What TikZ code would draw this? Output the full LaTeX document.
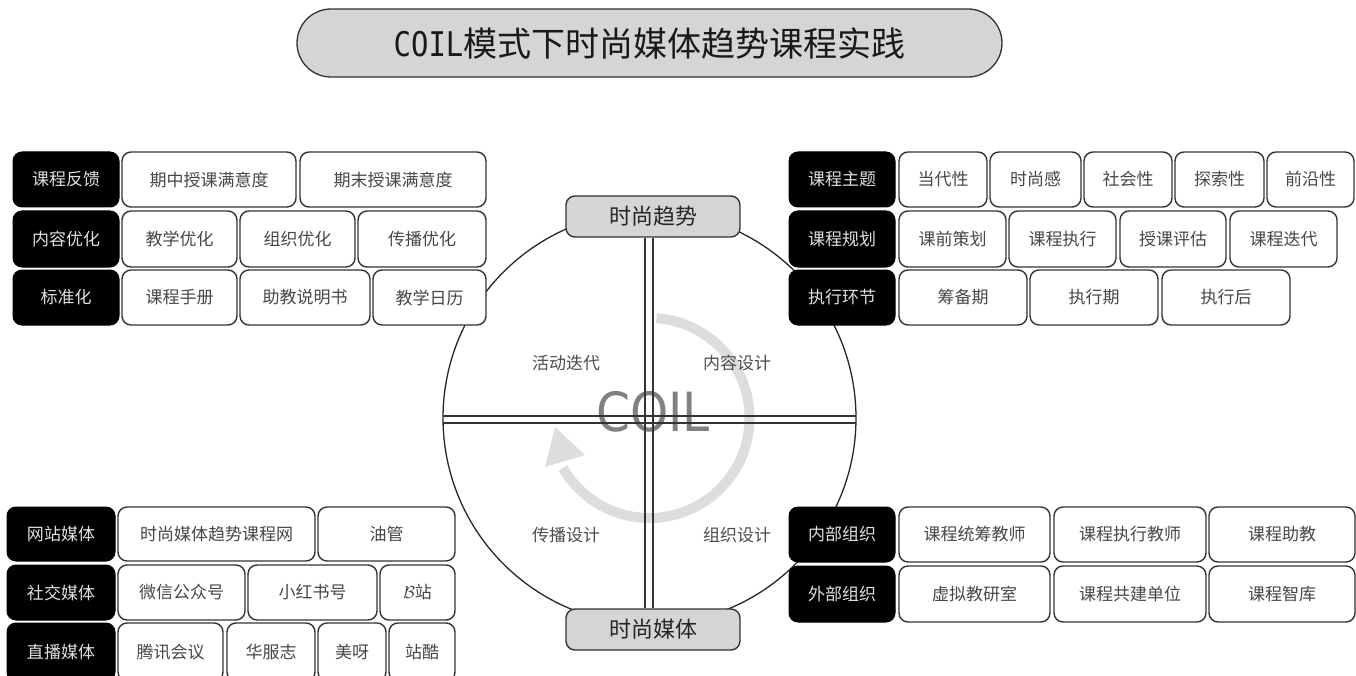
\documentclass[tikz,border=0pt]{standalone}
\usepackage{fontspec}
\usepackage{graphicx}
\setmainfont{Noto Sans CJK SC}
\newfontfamily\cjk{Noto Sans CJK SC}
\newfontfamily\monof{DejaVu Sans Mono}
\newfontfamily\condf{DejaVu Sans Condensed}
\usetikzlibrary{calc}
\newcommand\fsz[1]{\fontsize{#1}{#1}\selectfont}
% \bx{name}{style}{x1}{x2}{y1}{y2}{text}
\newcommand\bx[7]{\node[#2, minimum width={(#4-#3)*1pt}, minimum height={(#6-#5)*1pt}] (#1) at ({(#3+#4)/2},{-(#5+#6)/2}) {#7};}
\definecolor{boxgray}{HTML}{D5D5D5}
\definecolor{cycgray}{HTML}{DDDDDD}
\tikzset{
  hdr/.style={fill=black, draw=black, line width=1pt, rounded corners=9pt, inner sep=0pt, text=white!88!black, font=\cjk\fsz{17}},
  cell/.style={fill=white, draw=black!80, line width=1.4pt, rounded corners=9pt, inner sep=0pt, text=black!72, font=\cjk\fsz{17}},
  hub/.style={fill=boxgray, draw=black!80, line width=1.4pt, rounded corners=9pt, inner sep=0pt, text=black!85, font=\cjk\fsz{22}},
  quad/.style={text=black!70, font=\cjk\fsz{17}},
  ring/.style={draw=black!85, line width=1.3pt},
  dl/.style={draw=black!80, line width=1.3pt},
  cyc/.style={draw=cycgray, line width=10pt},
}
\begin{document}
\begin{tikzpicture}[x=1pt,y=1pt]
\useasboundingbox (0,0) rectangle (1356,-676);
\clip (0,0) rectangle (1356,-676);

% title
\node[fill=boxgray, draw=black!80, line width=1.3pt, rounded corners=34pt, minimum width=705pt, minimum height=68pt, inner sep=0pt, font=\cjk\fsz{34}, text=black!90] (title) at (649.5,-43) {{\monof\scalebox{0.85}[1]{COIL}}模式下时尚媒体趋势课程实践};

% circle and cycle
\coordinate (c) at (649.5,-418);
\draw[ring] (c) circle[radius=206.5pt];
\draw[cyc] ($(c)+(86:100)$) arc[start angle=86, end angle=-150, radius=100pt];
\fill[cycgray] (545,-467) -- (555,-427) -- (585,-455) -- cycle;
\node[text=black!50, font=\condf\fsz{54}] (coil) at (653,-412) {COIL};

\begin{scope}
\clip (c) circle[radius=206.5pt];
\draw[dl] (430,-416) -- (870,-416);
\draw[dl] (430,-423) -- (870,-423);
\end{scope}

% hub boxes
\bx{tt}{hub}{566}{740}{196}{237}{时尚趋势}
\bx{tb}{hub}{566}{740}{609}{650}{时尚媒体}
\draw[dl] ([xshift=-8pt]tt.south) -- ([xshift=-8pt]tb.north);
\draw[dl] (tt.south) -- (tb.north);

% quadrant labels
\node[quad] (q1) at (566,-363) {活动迭代};
\node[quad] (q2) at (737,-363) {内容设计};
\node[quad] (q3) at (566,-535) {传播设计};
\node[quad] (q4) at (737,-535) {组织设计};

% top-left group
\bx{a0}{hdr}{13}{119}{152}{207}{课程反馈}
\bx{a1}{cell}{122}{296}{152}{207}{期中授课满意度}
\bx{a2}{cell}{300}{486}{152}{207}{期末授课满意度}
\bx{b0}{hdr}{13}{119}{211}{267}{内容优化}
\bx{b1}{cell}{122}{237}{211}{267}{教学优化}
\bx{b2}{cell}{240}{355}{211}{267}{组织优化}
\bx{b3}{cell}{358}{486}{211}{267}{传播优化}
\bx{c0}{hdr}{13}{119}{270}{325}{标准化}
\bx{c1}{cell}{122}{237}{270}{325}{课程手册}
\bx{c2}{cell}{240}{370}{270}{325}{助教说明书}
\bx{c3}{cell}{373}{486}{270}{325}{教学日历}

% top-right group
\bx{d0}{hdr}{789}{895}{152}{207}{课程主题}
\bx{d1}{cell}{899}{987}{152}{207}{当代性}
\bx{d2}{cell}{990}{1081}{152}{207}{时尚感}
\bx{d3}{cell}{1084}{1172}{152}{207}{社会性}
\bx{d4}{cell}{1175}{1264}{152}{207}{探索性}
\bx{d5}{cell}{1267}{1354}{152}{207}{前沿性}
\bx{e0}{hdr}{789}{895}{211}{267}{课程规划}
\bx{e1}{cell}{899}{1006}{211}{267}{课前策划}
\bx{e2}{cell}{1009}{1116}{211}{267}{课程执行}
\bx{e3}{cell}{1120}{1226}{211}{267}{授课评估}
\bx{e4}{cell}{1230}{1337}{211}{267}{课程迭代}
\bx{f0}{hdr}{789}{895}{270}{325}{执行环节}
\bx{f1}{cell}{899}{1027}{270}{325}{筹备期}
\bx{f2}{cell}{1030}{1158}{270}{325}{执行期}
\bx{f3}{cell}{1162}{1290}{270}{325}{执行后}

% bottom-left group
\bx{g0}{hdr}{7}{115}{507}{561}{网站媒体}
\bx{g1}{cell}{118}{315}{507}{561}{时尚媒体趋势课程网}
\bx{g2}{cell}{318}{455}{507}{561}{油管}
\bx{h0}{hdr}{7}{115}{565}{620}{社交媒体}
\bx{h1}{cell}{118}{245}{565}{620}{微信公众号}
\bx{h2}{cell}{248}{377}{565}{620}{小红书号}
\bx{h3}{cell}{380}{455}{565}{620}{$\mathcal{B}$站}
\bx{i0}{hdr}{7}{115}{623}{681}{直播媒体}
\bx{i1}{cell}{118}{223}{623}{681}{腾讯会议}
\bx{i2}{cell}{227}{315}{623}{681}{华服志}
\bx{i3}{cell}{318}{386}{623}{681}{美呀}
\bx{i4}{cell}{389}{455}{623}{681}{站酷}

% bottom-right group
\bx{j0}{hdr}{789}{895}{507}{562}{内部组织}
\bx{j1}{cell}{899}{1050}{507}{562}{课程统筹教师}
\bx{j2}{cell}{1054}{1206}{507}{562}{课程执行教师}
\bx{j3}{cell}{1209}{1355}{507}{562}{课程助教}
\bx{k0}{hdr}{789}{895}{566}{622}{外部组织}
\bx{k1}{cell}{899}{1050}{566}{622}{虚拟教研室}
\bx{k2}{cell}{1054}{1206}{566}{622}{课程共建单位}
\bx{k3}{cell}{1209}{1355}{566}{622}{课程智库}
\end{tikzpicture}
\end{document}
